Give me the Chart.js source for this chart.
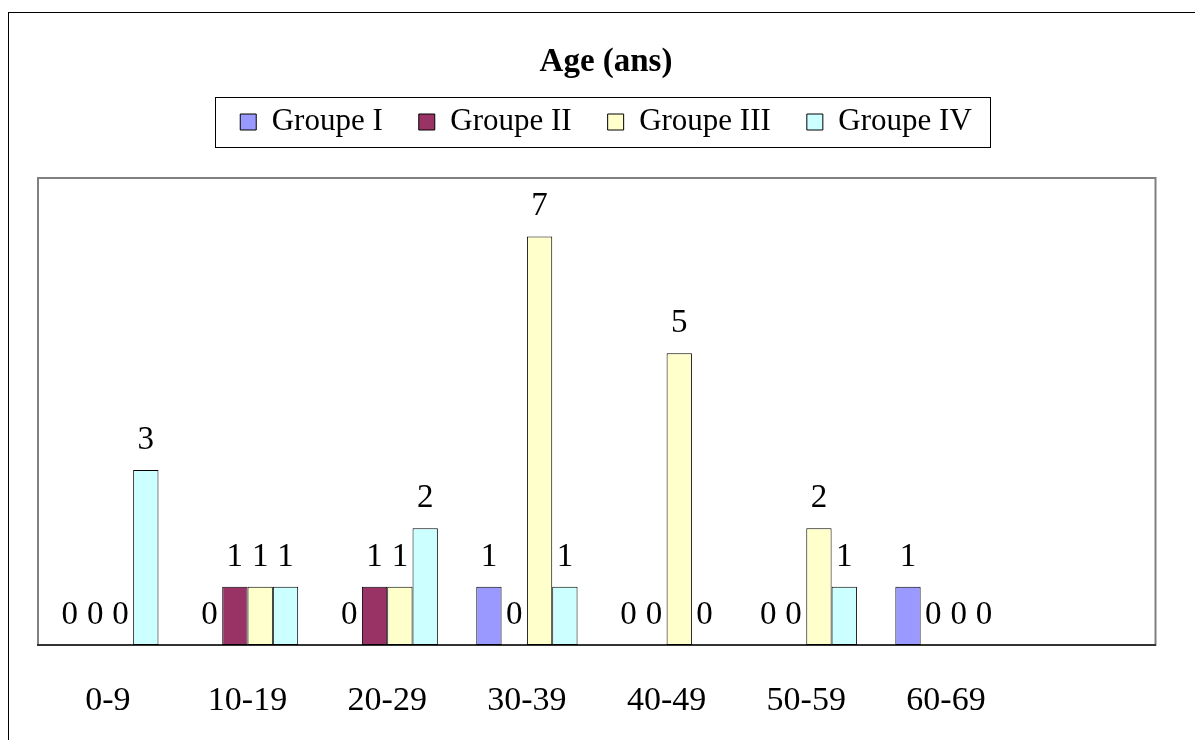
<!DOCTYPE html>
<html>
<head>
<meta charset="utf-8">
<script src="https://cdn.jsdelivr.net/npm/chart.js@4"></script>
<style>
    html, body { margin: 0; padding: 0; background: #fff; overflow: hidden; }
    .frame { position: absolute; left: 8px; top: 12px; width: 1300px; height: 800px; border: 1px solid #000; }
    .wrap { position: absolute; left: 0; top: 0; width: 1195px; height: 740px; }
</style>
</head>
<body>
<div class="frame"></div>
<div class="wrap"><canvas id="ageChart"></canvas></div>
<script>
// data
const ageGroups = ['0-9', '10-19', '20-29', '30-39', '40-49', '50-59', '60-69', ''];
const groupNames = ['Groupe I', 'Groupe II', 'Groupe III', 'Groupe IV'];
const groupI   = [0, 0, 0, 1, 0, 0, 1, null];
const groupII  = [0, 1, 1, 0, 0, 0, 0, null];
const groupIII = [0, 1, 1, 7, 5, 2, 0, null];
const groupIV  = [3, 1, 2, 1, 0, 1, 0, null];
const groupColors = ['#9999FF', '#993366', '#FFFFCC', '#CCFFFF'];

Chart.defaults.font.family = '"Liberation Serif", "Times New Roman", serif';
Chart.defaults.color = '#000';

// grey frame round the plot area
const plotFrame = {
    id: 'plotFrame',
    beforeDraw(chart) {
        const a = chart.chartArea;
        const c = chart.ctx;
        c.save();
        c.strokeStyle = '#808080';
        c.lineWidth = 2;
        c.strokeRect(a.left, a.top, a.right - a.left, a.bottom - a.top);
        c.restore();
    }
};

// box round the legend items
const legendFrame = {
    id: 'legendFrame',
    afterDraw(chart) {
        const boxes = chart.legend.legendHitBoxes;
        if (!boxes || !boxes.length) return;
        const first = boxes[0];
        const last = boxes[boxes.length - 1];
        const mid = first.top + first.height / 2;
        const c = chart.ctx;
        c.save();
        c.strokeStyle = '#000';
        c.lineWidth = 1;
        c.strokeRect(Math.round(first.left - 25) + 0.5, Math.round(mid - 25) + 0.5,
            Math.round(last.left + last.width + 18 - (first.left - 25)), 50);
        c.restore();
    }
};

// value written above every bar
const barValues = {
    id: 'barValues',
    afterDatasetsDraw(chart) {
        const c = chart.ctx;
        c.save();
        c.font = '33px "Liberation Serif", serif';
        c.fillStyle = '#000';
        c.textAlign = 'center';
        c.textBaseline = 'alphabetic';
        chart.data.datasets.forEach((ds, i) => {
            chart.getDatasetMeta(i).data.forEach((bar, j) => {
                const v = ds.data[j];
                if (v === null || v === undefined) return;
                c.fillText(String(v), bar.x, bar.y - 21);
            });
        });
        c.restore();
    }
};

new Chart(document.getElementById('ageChart'), {
    type: 'bar',
    data: {
        labels: ageGroups,
        datasets: [
            { label: groupNames[0], data: groupI,   backgroundColor: groupColors[0] },
            { label: groupNames[1], data: groupII,  backgroundColor: groupColors[1] },
            { label: groupNames[2], data: groupIII, backgroundColor: groupColors[2] },
            { label: groupNames[3], data: groupIV,  backgroundColor: groupColors[3] }
        ]
    },
    options: {
        responsive: true,
        maintainAspectRatio: false,
        animation: false,
        events: [],
        datasets: {
            bar: {
                borderColor: '#000',
                borderWidth: 1,
                borderSkipped: false,
                categoryPercentage: 0.725,
                barPercentage: 1
            }
        },
        layout: {
            padding: { left: 38, right: 21, top: 0, bottom: 0 }
        },
        plugins: {
            title: {
                display: true,
                text: 'Age (ans)',
                font: { size: 33, weight: 'bold', lineHeight: 0.5 },
                padding: { top: 54, bottom: 0 }
            },
            legend: {
                position: 'top',
                labels: {
                    boxWidth: 16,
                    boxHeight: 16,
                    padding: 36,
                    font: { size: 31 }
                }
            },
            subtitle: {
                // spacer between legend and plot
                display: true,
                text: '',
                weight: 500,
                font: { size: 8, lineHeight: 1 },
                padding: { top: 22.5, bottom: 0 }
            },
            tooltip: { enabled: false }
        },
        scales: {
            x: {
                grid: { display: false },
                border: { display: true, color: '#333', width: 2 },
                ticks: { padding: 28, font: { size: 34 } },
                afterFit(scale) { scale.height = 95; }
            },
            y: {
                position: 'right',
                min: 0,
                max: 8,
                grid: { display: false },
                border: { display: false },
                ticks: { display: false },
                afterFit(scale) { scale.width = 18.5; }
            }
        }
    },
    plugins: [plotFrame, legendFrame, barValues]
});
</script>
</body>
</html>
